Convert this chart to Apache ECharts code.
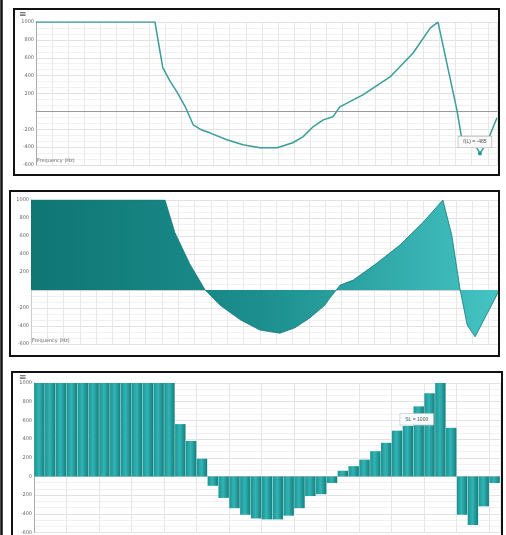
<!DOCTYPE html>
<html>
<head>
<meta charset="utf-8">
<script src="https://cdn.jsdelivr.net/npm/echarts@6/dist/echarts.min.js"></script>
<style>html,body{margin:0;padding:0;background:#fff;}#c{width:506px;height:535px;}</style>
</head>
<body>
<div id="c"></div>
<script>
// ---- Data ----
// Panel 1: line (x = position along frequency axis, 0..100)
var lineX = [0, 25.8, 27.5, 29.1, 30.6, 32.3, 34.1, 35.8, 37.7, 41.4, 44.9, 48.6, 52.3, 55.7, 57.9, 60.1, 62.3, 64.4, 65.9, 70.9, 76.8, 81.8, 85.5, 87.2, 91.3, 92.4, 93.7, 95.6, 96.3, 97.8, 100];
var lineY = [1000, 1000, 490, 335, 215, 60, -150, -205, -240, -318, -374, -407, -407, -351, -285, -173, -95, -61, 50, 184, 385, 653, 932, 999, 17, -318, -396, -405, -470, -350, -72];
// Panel 2: area
var areaX = [0, 28.7, 30.8, 34.0, 37.3, 40.5, 44.8, 49.0, 53.3, 56.5, 59.7, 62.9, 64.0, 66.2, 69.0, 74.1, 79.0, 83.9, 88.2, 90.1, 91.9, 93.4, 95.1, 100];
var areaY = [1000, 1000, 640, 290, 0, -170, -330, -445, -480, -420, -310, -170, -90, 55, 110, 300, 500, 750, 1000, 610, 0, -390, -520, -30];
// Panel 3: bars
var barValues = [1000, 1000, 1000, 1000, 1000, 1000, 1000, 1000, 1000, 1000, 1000, 1000, 1000,
  560, 380, 190,
  -100, -230, -340, -410, -450, -460, -460, -420, -340, -210, -190, -70,
  60, 110, 180, 270, 360, 490, 540, 750, 890, 1000, 520,
  -410, -520, -320, -70];
var barCats = barValues.map(function (v, i) { return String(i + 1); });
// Tick labels
var yTicks = [-600, -400, -200, 0, 200, 400, 600, 800, 1000];
var xLabel = 'Frequency (Hz)';
var lineNote = 'f(L) = -485';
var barNote = 'SL = 1000';
var noteLinePoint = [lineX[28], lineY[28]];
var noteBarIndex = 35;

function pairs(xs, ys) { return xs.map(function (x, i) { return [x, ys[i]]; }); }

var gridLine = { show: true, lineStyle: { color: '#e2e2e2', width: 1 } };
var minorLine = { show: true, lineStyle: { color: '#f1f1f1', width: 1 } };

function yAxisCfg(gi, showZero, axisColor) {
  return {
    type: 'value', gridIndex: gi, min: -600, max: 1000, interval: 200,
    axisLine: { show: true, lineStyle: { color: axisColor, width: 1 } },
    axisTick: { show: false },
    axisLabel: {
      fontSize: 5, color: '#666', margin: 2, fontFamily: 'DejaVu Sans',
      formatter: function (v) { return (v === 0 && !showZero) ? '' : String(v); }
    },
    splitLine: gridLine,
    minorTick: { show: false, splitNumber: 3 },
    minorSplitLine: minorLine
  };
}
function xValueAxis(gi, zeroColor) {
  return {
    type: 'value', gridIndex: gi, min: 0, max: 100, interval: 3.5,
    axisLine: { show: true, onZero: true, lineStyle: { color: zeroColor, width: 1 } },
    axisTick: { show: false }, axisLabel: { show: false },
    splitLine: { show: true, lineStyle: { color: '#e8e8e8', width: 1 } }
  };
}

var chart = echarts.init(document.getElementById('c'), null, { renderer: 'canvas' });
chart.setOption({
  animation: false,
  backgroundColor: '#fff',
  grid: [
    { left: 36, top: 22, width: 461, height: 143 },
    { left: 31, top: 200, width: 467, height: 144 },
    { left: 34, top: 383, width: 466, height: 153 }
  ],
  xAxis: [
    xValueAxis(0, '#9a9a9a'),
    xValueAxis(1, '#cfcfcf'),
    {
      type: 'category', gridIndex: 2, data: barCats,
      axisLine: { show: true, onZero: true, lineStyle: { color: '#d0d0d0' } },
      axisTick: { show: false }, axisLabel: { show: false },
      splitLine: { show: true, interval: 2, lineStyle: { color: '#e6e6e6' } }
    }
  ],
  yAxis: [
    yAxisCfg(0, false, '#aaaaaa'),
    yAxisCfg(1, false, '#cccccc'),
    yAxisCfg(2, true, '#aaaaaa')
  ],
  series: [
    {
      type: 'line', xAxisIndex: 0, yAxisIndex: 0, data: pairs(lineX, lineY),
      symbol: 'none', lineStyle: { color: '#3a9c9c', width: 1.5 },
      markPoint: {
        symbol: 'circle', symbolSize: 4, itemStyle: { color: '#1aa08a' },
        label: {
          show: true, formatter: lineNote, fontSize: 5, color: '#555',
          backgroundColor: '#fafafa', borderColor: '#aaa', borderWidth: 0.6,
          padding: [3, 5], position: 'top', offset: [-5, 1]
        },
        data: [{ coord: noteLinePoint }]
      }
    },
    {
      type: 'line', xAxisIndex: 1, yAxisIndex: 1, data: pairs(areaX, areaY),
      symbol: 'none', lineStyle: { color: '#167a7a', width: 0.8 },
      areaStyle: {
        opacity: 1,
        color: new echarts.graphic.LinearGradient(0, 0, 1, 0, [
          { offset: 0, color: '#0f7674' },
          { offset: 0.5, color: '#1c8f8e' },
          { offset: 1, color: '#45c3c3' }
        ])
      }
    },
    {
      type: 'bar', xAxisIndex: 2, yAxisIndex: 2, data: barValues,
      barCategoryGap: '4%',
      itemStyle: {
        color: new echarts.graphic.LinearGradient(0, 0, 1, 0, [
          { offset: 0, color: '#1a9494' },
          { offset: 0.45, color: '#33b4b4' },
          { offset: 1, color: '#137e7f' }
        ])
      },
      markPoint: {
        symbol: 'rect', symbolSize: 1, itemStyle: { color: 'rgba(0,0,0,0)' },
        label: {
          show: true, formatter: barNote, fontSize: 5, color: '#555',
          backgroundColor: '#f6fbfb', borderColor: '#bbb', borderWidth: 0.6,
          padding: [3, 5], position: 'inside', offset: [-2, 13]
        },
        data: [{ coord: [noteBarIndex, barValues[noteBarIndex]] }]
      }
    }
  ],
  graphic: [
    { type: 'rect', shape: { x: 14, y: 9, width: 485, height: 166 }, style: { fill: 'none', stroke: '#111', lineWidth: 2 }, z: 100 },
    { type: 'rect', shape: { x: 10, y: 191, width: 489, height: 165 }, style: { fill: 'none', stroke: '#111', lineWidth: 2 }, z: 100 },
    { type: 'rect', shape: { x: 12, y: 372, width: 490, height: 170 }, style: { fill: 'none', stroke: '#111', lineWidth: 2 }, z: 100 },
    { type: 'line', shape: { x1: 1.5, y1: 0, x2: 1.5, y2: 535 }, style: { stroke: '#111', lineWidth: 2.5 }, z: 100 },
    { type: 'text', left: 19, top: 10, style: { text: '≡', fontSize: 9, fill: '#555', fontFamily: 'DejaVu Sans' }, z: 100 },
    { type: 'text', left: 19, top: 373, style: { text: '≡', fontSize: 9, fill: '#555', fontFamily: 'DejaVu Sans' }, z: 100 },
    { type: 'text', left: 37, top: 158, style: { text: xLabel, fontSize: 5, fill: '#666', fontFamily: 'DejaVu Sans' }, z: 100 },
    { type: 'text', left: 32, top: 338, style: { text: xLabel, fontSize: 5, fill: '#666', fontFamily: 'DejaVu Sans' }, z: 100 }
  ]
});
</script>
</body>
</html>
